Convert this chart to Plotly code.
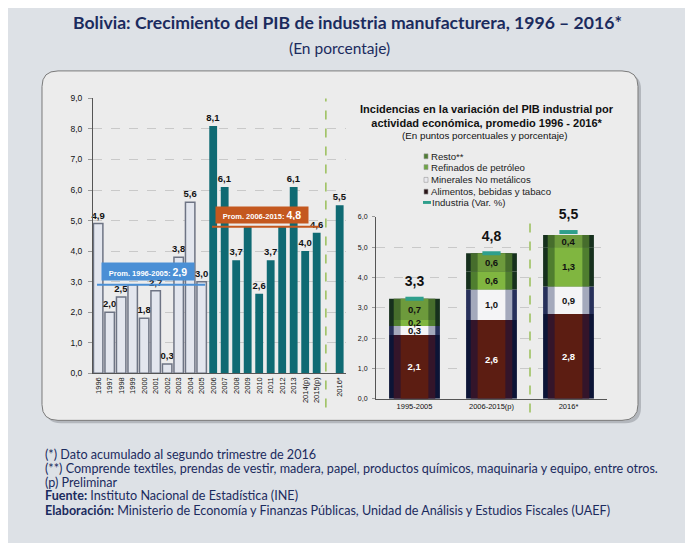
import plotly.graph_objects as go

W, H = 693, 543
OX, OY = 8, 8   # the page body keeps its default 8px margin

# ---- left chart: yearly growth of manufacturing GDP (%)
years = ["1996", "1997", "1998", "1999", "2000", "2001", "2002", "2003", "2004", "2005",
         "2006", "2007", "2008", "2009", "2010", "2011", "2012", "2013", "2014(p)", "2015(p)", "2016*"]
growth = [4.9, 2.0, 2.5, 2.9, 1.8, 2.7, 0.3, 3.8, 5.6, 3.0,
          8.1, 6.1, 3.7, 4.8, 2.6, 3.7, 4.8, 6.1, 4.0, 4.6, 5.5]
hidden_labels = ["1999", "2009", "2012"]   # covered by the average boxes
prom_1996_2005 = 2.9
prom_2006_2015 = 4.8

# ---- right chart: incidences by activity (pp) and industry growth (%)
periods = ["1995-2005", "2006-2015(p)", "2016*"]
alimentos = [2.1, 2.6, 2.8]
minerales = [0.3, 1.0, 0.9]
refinados = [0.2, 0.6, 1.3]
resto = [0.7, 0.6, 0.4]
industria = [3.3, 4.8, 5.5]

TEAL = "#0f6a73"
NAVY = "#1b2b5e"
ARIAL = "Liberation Sans"


def px(x):
    return (x - OX) / W


def py(y):
    return 1 - (y - OY) / H


def fmt(v):
    return f"{v:.1f}".replace(".", ",")


def rrect(x0, y0, x1, y1, r):
    p = lambda x, y: f"{px(x):.5f},{py(y):.5f}"
    return (f"M{p(x0 + r, y0)} L{p(x1 - r, y0)} Q{p(x1, y0)} {p(x1, y0 + r)} "
            f"L{p(x1, y1 - r)} Q{p(x1, y1)} {p(x1 - r, y1)} L{p(x0 + r, y1)} "
            f"Q{p(x0, y1)} {p(x0, y1 - r)} L{p(x0, y0 + r)} Q{p(x0, y0)} {p(x0 + r, y0)} Z")


# x positions: one empty slot before 2016*
pos = list(range(len(years) - 1)) + [len(years)]
labels = ["" if y in hidden_labels else fmt(v) for y, v in zip(years, growth)]

fig = go.Figure()

lbl_font = dict(family=ARIAL, size=9.5, color="#111", weight="bold")
fig.add_trace(go.Bar(
    x=pos[:10], y=growth[:10], width=0.82, text=labels[:10], textposition="outside",
    textfont=lbl_font, constraintext="none",
    marker=dict(color="#e3e6ee", line=dict(color="#6e7484", width=1.5)),
    cliponaxis=False, showlegend=False, xaxis="x", yaxis="y"))
fig.add_trace(go.Bar(
    x=pos[10:], y=growth[10:], width=0.68, text=labels[10:], textposition="outside",
    textfont=lbl_font, constraintext="none", marker=dict(color=TEAL, line=dict(width=0)),
    cliponaxis=False, showlegend=False, xaxis="x", yaxis="y"))

# stacked incidences, drawn as 3 nested layers to fake the cylinder shading
segments = [
    (alimentos, ("#0c1436", "#34152a", "#5c1d12"), "white"),
    (minerales, ("#27305a", "#a4a9bc", "#f4f4f6"), "#111"),
    (refinados, ("#16301d", "#4f7e2f", "#80b640"), "#111"),
    (resto, ("#16301d", "#466d2c", "#6d9a3c"), "#111"),
]
bases = []
acc = [0.0] * len(periods)
for vals, _, _ in segments:
    bases.append(list(acc))
    acc = [a + v for a, v in zip(acc, vals)]

rx = list(range(len(periods)))
for layer, w in enumerate((0.66, 0.54, 0.36)):
    for (vals, cols, tcol), base in zip(segments, bases):
        center = layer == 2
        fig.add_trace(go.Bar(
            x=rx, y=vals, base=base, width=w,
            marker=dict(color=cols[layer], line=dict(width=0)),
            text=[fmt(v) for v in vals] if center else None,
            textposition="inside" if center else "none",
            insidetextanchor="middle", constraintext="none", textangle=0,
            textfont=dict(family=ARIAL, size=9.5, color=tcol, weight="bold"),
            showlegend=False, xaxis="x2", yaxis="y2"))

fig.add_trace(go.Scatter(
    x=rx, y=industria, mode="markers+text", text=[fmt(v) for v in industria],
    textposition="top center",
    textfont=dict(family=ARIAL, size=14, color="#111", weight="bold"),
    marker=dict(symbol="line-ew-open", size=13, color="#2f9f8c",
                line=dict(color="#2f9f8c", width=4)),
    cliponaxis=False, showlegend=False, xaxis="x2", yaxis="y2"))

grid = dict(showgrid=True, gridcolor="#c9c9c9", griddash="dash", gridwidth=1)

shapes = [
    dict(type="path", xref="paper", yref="paper", path=rrect(45, 70, 641, 426, 16),
         fillcolor="#b3b7bd", line=dict(width=0), layer="below"),
    dict(type="path", xref="paper", yref="paper", path=rrect(42, 67, 638, 423, 16),
         fillcolor="#ececec", line=dict(color="#7a7a7a", width=1), layer="below"),
    # period averages
    dict(type="line", xref="x", yref="y", x0=-0.1, x1=9.3, y0=prom_1996_2005, y1=prom_1996_2005,
         line=dict(color="#4a8fd5", width=2)),
    dict(type="line", xref="x", yref="y", x0=9.9, x1=19.2, y0=prom_2006_2015, y1=prom_2006_2015,
         line=dict(color="#c4581f", width=2)),
    # preliminary separators
    dict(type="line", xref="x", yref="paper", x0=19.8, x1=19.8, y0=py(410), y1=py(95),
         line=dict(color="#8db843", width=1.3, dash="dash")),
    dict(type="line", xref="x2", yref="paper", x0=1.5, x1=1.5, y0=py(415), y1=py(215),
         line=dict(color="#8db843", width=1.3, dash="dash")),
]

annotations = [
    dict(text="<b>Bolivia: Crecimiento del PIB de industria manufacturera, 1996 – 2016*</b>",
         x=px(347), y=py(18), font=dict(family="Lato", size=17.6, color=NAVY)),
    dict(text="(En porcentaje)", x=px(339), y=py(44), font=dict(family="Lato", size=15.5, color=NAVY)),
    dict(text=f"<b>Prom. 1996-2005: <span style='font-size:10.5px'>{fmt(prom_1996_2005)}</span></b>",
         xref="x", yref="y", x=4.35, y=3.33, width=86, height=11, borderpad=3,
         bgcolor="#4a8fd5", font=dict(family=ARIAL, size=7.5, color="white")),
    dict(text=f"<b>Prom. 2006-2015: <span style='font-size:10.5px'>{fmt(prom_2006_2015)}</span></b>",
         xref="x", yref="y", x=14.26, y=5.18, width=86, height=10, borderpad=3,
         bgcolor="#c4581f", font=dict(family=ARIAL, size=7.5, color="white")),
    dict(text="<b>Incidencias en la variación del PIB industrial por<br>"
              "actividad económica, promedio 1996 - 2016*</b>",
         x=px(487), y=py(113), font=dict(family=ARIAL, size=11, color="#111")),
    dict(text="(En puntos porcentuales y porcentaje)", x=px(485), y=py(133),
         font=dict(family=ARIAL, size=9.8, color="#111")),
]
for a in annotations:
    a.setdefault("xref", "paper")
    a.setdefault("yref", "paper")
    a.setdefault("xanchor", "center")
    a.setdefault("yanchor", "middle")
    a.setdefault("showarrow", False)

# legend of the right chart
legend_rows = [("Resto**", "#4f7d33", 154), ("Refinados de petróleo", "#6ea545", 165),
               ("Minerales No metálicos", "#e9e9ee", 178), ("Alimentos, bebidas y tabaco", "#2a1418", 190),
               ("Industria (Var. %)", "#2f9f8c", 201)]
for name, col, yy in legend_rows:
    if name.startswith("Industria"):
        shapes.append(dict(type="rect", xref="paper", yref="paper", x0=px(423), x1=px(431),
                           y0=py(yy + 1.5), y1=py(yy - 1.5), fillcolor=col, line=dict(width=0)))
    else:
        shapes.append(dict(type="rect", xref="paper", yref="paper", x0=px(424), x1=px(428),
                           y0=py(yy + 2.5), y1=py(yy - 2.5), fillcolor=col,
                           line=dict(color="#9a9a9a", width=0.6)))
    annotations.append(dict(text=name, xref="paper", yref="paper",
                            x=px(430 if name.startswith("I") else 428.5),
                            y=py(yy), xanchor="left", yanchor="middle", showarrow=False,
                            font=dict(family=ARIAL, size=9.6, color="#222")))

notes = [
    ("(*) Dato acumulado al segundo trimestre de 2016", 458),
    ("(**) Comprende textiles, prendas de vestir, madera, papel, productos químicos, maquinaria y equipo, entre otros.", 472),
    ("(p) Preliminar", 486),
    ("<b>Fuente:</b> Instituto Nacional de Estadística (INE)", 500),
    ("<b>Elaboración:</b> Ministerio de Economía y Finanzas Públicas, Unidad de Análisis y Estudios Fiscales (UAEF)", 515),
]
for t, yy in notes:
    annotations.append(dict(text=t, xref="paper", yref="paper", x=px(43), y=py(yy),
                            xanchor="left", yanchor="middle", showarrow=False,
                            font=dict(family="Lato", size=12.6, color=NAVY)))

fig.update_layout(
    width=W, height=H, margin=dict(l=0, r=0, t=0, b=0),
    paper_bgcolor="#dde1e6", plot_bgcolor="rgba(0,0,0,0)",
    barmode="overlay", separators=",.", showlegend=False,
    shapes=shapes, annotations=annotations,
    xaxis=dict(domain=[px(93), px(346)], range=[-0.45, 21.55], tickvals=pos, ticktext=years,
               tickangle=-90, tickfont=dict(family=ARIAL, size=7.5, color="#111"),
               showline=True, linecolor="#555", linewidth=1, showgrid=False, zeroline=False,
               ticks=""),
    yaxis=dict(domain=[py(375), py(95)], range=[0, 9], dtick=1, tickformat=".1f",
               tickfont=dict(family=ARIAL, size=8.5, color="#111"),
               showline=True, linecolor="#555", linewidth=1, zeroline=False,
               ticks="outside", ticklen=4, tickcolor="#999", ticklabelstandoff=4, **grid),
    xaxis2=dict(domain=[px(376), px(607)], range=[-0.5, 2.5], tickvals=rx, ticktext=periods,
                tickfont=dict(family=ARIAL, size=7.5, color="#111"), anchor="y2",
                showline=True, linecolor="#555", linewidth=1, showgrid=False, zeroline=False,
                ticks=""),
    yaxis2=dict(domain=[py(401), py(215.7)], range=[0, 6], dtick=1, tickformat=".1f", anchor="x2",
                tickfont=dict(family=ARIAL, size=7, color="#111"),
                showline=True, linecolor="#555", linewidth=1, zeroline=False,
                ticks="outside", ticklen=3, tickcolor="#999", ticklabelstandoff=3, **grid),
)

fig.write_html("out.html")
